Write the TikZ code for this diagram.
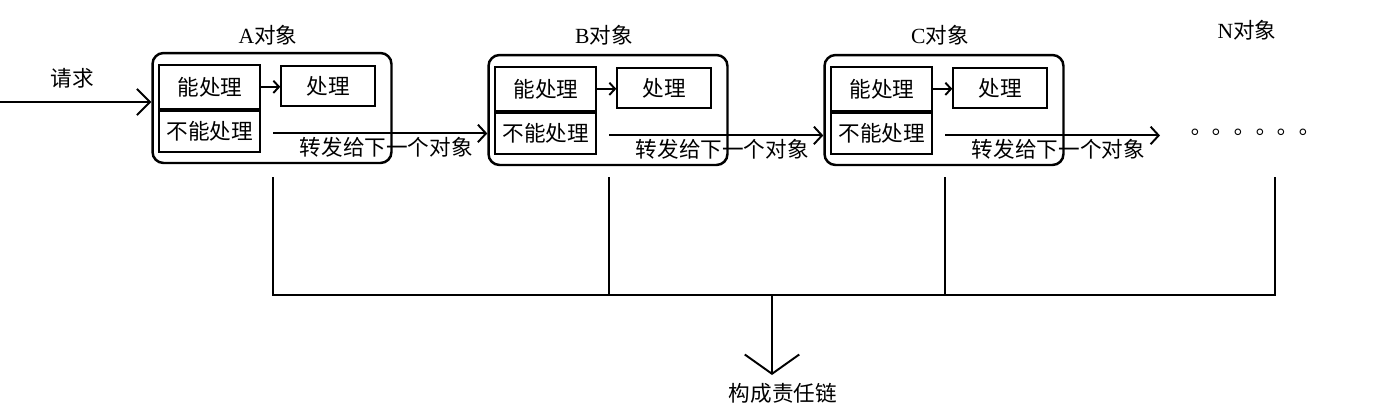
\documentclass[tikz,border=0pt]{standalone}
\usepackage{fontspec}
\setmainfont{Liberation Serif}
\newfontfamily\cjk{Noto Sans CJK SC}
\newfontfamily\cjktc{Noto Sans CJK TC}
\usetikzlibrary{arrows.meta,calc}
\tikzset{
  px/.style={x=0.02cm,y=-0.02cm},
  txt/.style={font=\fontsize{12.3}{13}\selectfont\cjk},
  objbox/.style={draw,rounded corners=0.22cm,line width=1.4pt,minimum width=4.78cm,minimum height=2.2cm,inner sep=0pt},
  cellbox/.style={draw,line width=1.2pt,minimum width=2.02cm,inner sep=0pt,txt},
  dobox/.style={draw,line width=1.2pt,minimum width=1.88cm,minimum height=0.8cm,inner sep=0pt,txt},
  lbl/.style={inner sep=0pt,txt},
  ln/.style={line width=1.1pt},
  bigarr/.style={ln,-{Straight Barb[length=7.4pt,width=15pt,line width=1.1pt]}},
  fwdarr/.style={ln,-{Straight Barb[length=4.6pt,width=10pt,line width=1.1pt]}},
  smallarr/.style={ln,-{Straight Barb[length=3.2pt,width=7pt,line width=1.1pt]}},
  downarr/.style={ln,-{Straight Barb[length=11pt,width=31pt,line width=1.1pt]}},
}
\newcommand\lat[1]{{\rmfamily #1}}
\begin{document}
\begin{tikzpicture}[px]
\useasboundingbox (0,0) rectangle (1400,414);
\foreach \n/\cx/\cy in {A/272/108,B/608/110,C/944/110}{
  \node[objbox] (o\n) at (\cx,\cy) {};
  \node[cellbox,minimum height=0.88cm,anchor=north west] (can\n) at ($(o\n.north west)+(7,12)$) {能处理};
  \node[cellbox,minimum height=0.82cm,anchor=north west] (cant\n) at (can\n.south west) {不能处理};
  \node[dobox,anchor=north west] (do\n) at ($(o\n.north west)+(129,13)$) {处理};
  \draw[smallarr] (can\n.east) -- (do\n.west |- can\n.east);
  \node[lbl] (t\n) at (\cx-4,35) {\lat{\n}对象};
  \coordinate (s\n) at ($(cant\n.east)+(12,2)$);
  \node[lbl] (fw\n) at ($(s\n)+(113,14)$) {转发给下一个对象};
  \coordinate (v\n) at (\cx+1,177);
}
\node[lbl] (req) at (72,78) {请求};
\coordinate (in) at (0,102);
\draw[bigarr] (in) -- (oA.west |- in);
\draw[fwdarr] (sA) -- (oB.west |- sA);
\draw[fwdarr] (sB) -- (oC.west |- sB);
\coordinate (eC) at (1160,0);
\draw[fwdarr] (sC) -- (eC |- sC);
\node[inner sep=0pt,font=\fontsize{12.3}{13}\selectfont\cjktc] (dots) at (1249,135) {。。。。。。};
\node[lbl] (tN) at (1247,30) {\lat{N}对象};
\coordinate (vN) at (1275,177);
\coordinate (bA) at (273,295);
\coordinate (bN) at (1275,295);
\draw[ln] (vA) -- (bA) -- (bN) -- (vN);
\draw[ln] (vB) -- (vB |- bA);
\draw[ln] (vC) -- (vC |- bA);
\coordinate (bm) at (772,295);
\coordinate (tip) at (772,375);
\draw[downarr] (bm) -- (tip);
\node[lbl] (chain) at (783,393) {构成责任链};
\end{tikzpicture}
\end{document}
